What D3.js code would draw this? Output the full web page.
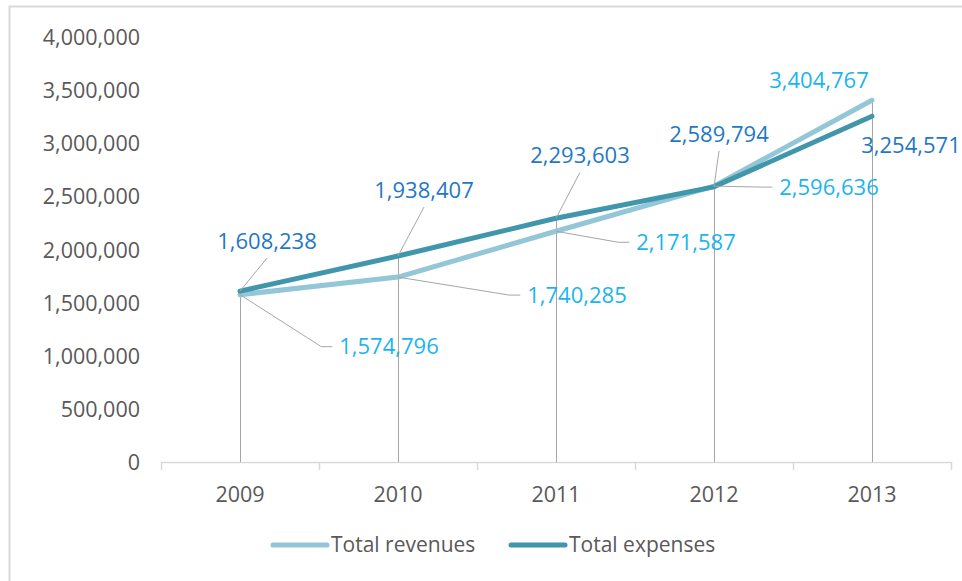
<!DOCTYPE html>
<html>
<head>
<meta charset="utf-8">
<script src="https://cdn.jsdelivr.net/npm/d3@7"></script>
<style>
  html, body { margin: 0; padding: 0; background: #ffffff; }
  svg { display: block; }
  text { font-family: "Open Sans", "Noto Sans", sans-serif; }
</style>
</head>
<body>
<svg id="chart" width="962" height="581"></svg>
<script>
// Years on the category axis
const years = ["2009", "2010", "2011", "2012", "2013"];
// Annual totals
const revenues = [1574796, 1740285, 2171587, 2596636, 3404767];
const expenses = [1608238, 1938407, 2293603, 2589794, 3254571];
// Value axis ticks
const yTicks = [0, 500000, 1000000, 1500000, 2000000, 2500000, 3000000, 3500000, 4000000];
// Series names for the legend
const seriesNames = ["Total revenues", "Total expenses"];

// Label placement: offset of each label centre from its point, and whether a leader is drawn
// side: "up" = label above with leader to its bottom, "right" = label to the right with elbow leader
const revLabelPos = [
  { dx: 149, dy: 52, side: "right" },
  { dx: 179, dy: 18, side: "right" },
  { dx: 130, dy: 11, side: "right" },
  { dx: 115, dy: 1, side: "right" },
  { dx: -53, dy: -20, side: "none" }
];
const expLabelPos = [
  { dx: 27, dy: -50, side: "up" },
  { dx: 26, dy: -66, side: "up" },
  { dx: 24, dy: -63, side: "up" },
  { dx: 5, dy: -53, side: "up" },
  { dx: 39, dy: 29, side: "none" }
];

const svg = d3.select("#chart");
const fmt = d3.format(",");

const margin = { left: 161, right: 951, top: 37, bottom: 462 };

const x = d3.scaleBand().domain(years).range([margin.left, margin.right]).padding(0);
const y = d3.scaleLinear().domain([0, 4000000]).range([margin.bottom, margin.top]);
const cx = d => x(d) + x.bandwidth() / 2;

// Outer chart-area frame (only top and left edges fall inside the view)
svg.append("rect")
  .attr("x", 9.5).attr("y", 6.5)
  .attr("width", 1000).attr("height", 600)
  .attr("fill", "none")
  .attr("stroke", "#d9d9d9")
  .attr("stroke-width", 2);

// Value axis labels (no axis line, no gridlines)
const yAxis = d3.axisLeft(y).tickValues(yTicks).tickFormat(fmt).tickSize(0).tickPadding(0);
const yg = svg.append("g").attr("transform", "translate(140,0)").call(yAxis);
yg.select(".domain").remove();
yg.selectAll("text")
  .attr("fill", "#595959")
  .style("font-size", "21.5px")
  .attr("dy", "0.35em");

// Category axis
const bounds = years.map(d => x(d)).concat([margin.right]);
const xg = svg.append("g");
xg.append("line")
  .attr("x1", margin.left).attr("x2", margin.right)
  .attr("y1", margin.bottom + 0.5).attr("y2", margin.bottom + 0.5)
  .attr("stroke", "#d9d9d9").attr("stroke-width", 1.5);
xg.selectAll("line.tick").data(bounds).enter().append("line")
  .attr("class", "tick")
  .attr("x1", d => Math.round(d) + 0.5).attr("x2", d => Math.round(d) + 0.5)
  .attr("y1", margin.bottom).attr("y2", margin.bottom + 8)
  .attr("stroke", "#d9d9d9").attr("stroke-width", 1.5);
xg.selectAll("text").data(years).enter().append("text")
  .attr("x", d => cx(d)).attr("y", margin.bottom + 32)
  .attr("text-anchor", "middle")
  .attr("dy", "0.35em")
  .attr("fill", "#595959")
  .style("font-size", "21.5px")
  .text(d => d);

// Drop lines from the higher point of each year down to the axis
svg.append("g").selectAll("line").data(years).enter().append("line")
  .attr("x1", d => Math.round(cx(d)) + 0.5).attr("x2", d => Math.round(cx(d)) + 0.5)
  .attr("y1", (d, i) => y(Math.max(revenues[i], expenses[i])))
  .attr("y2", margin.bottom)
  .attr("stroke", "#a6a6a6").attr("stroke-width", 1);

// Series lines
const line = d3.line().x((d, i) => cx(years[i])).y(d => y(d));
const revColor = "#93c6d6";
const expColor = "#4096ab";

svg.append("path").datum(revenues)
  .attr("d", line).attr("fill", "none")
  .attr("stroke", revColor).attr("stroke-width", 5)
  .attr("stroke-linecap", "round").attr("stroke-linejoin", "round");
svg.append("path").datum(expenses)
  .attr("d", line).attr("fill", "none")
  .attr("stroke", expColor).attr("stroke-width", 5)
  .attr("stroke-linecap", "round").attr("stroke-linejoin", "round");

// Data labels with leader lines
function drawLabels(values, pos, color) {
  const g = svg.append("g");
  values.forEach((v, i) => {
    const px = cx(years[i]);
    const py = y(v);
    const p = pos[i];
    const lx = px + p.dx;
    const ly = py + p.dy;
    const label = g.append("text")
      .attr("x", lx).attr("y", ly)
      .attr("text-anchor", "middle")
      .attr("dy", "0.35em")
      .attr("fill", color)
      .style("font-size", "22px")
      .text(fmt(v));
    const w = label.node().getComputedTextLength();
    if (p.side === "up") {
      g.append("path")
        .attr("d", d3.line()([[lx, ly + 17], [px, py]]))
        .attr("fill", "none").attr("stroke", "#a6a6a6").attr("stroke-width", 1);
    } else if (p.side === "right") {
      const left = lx - w / 2;
      g.append("path")
        .attr("d", d3.line()([[px, py], [left - 18, ly], [left - 7, ly]]))
        .attr("fill", "none").attr("stroke", "#a6a6a6").attr("stroke-width", 1);
    }
  });
}
drawLabels(revenues, revLabelPos, "#1cb4ef");
drawLabels(expenses, expLabelPos, "#1f78c6");

// Legend
const legend = svg.append("g").attr("transform", "translate(0,545)");
const legendItems = [
  { name: seriesNames[0], color: revColor, x0: 273 },
  { name: seriesNames[1], color: expColor, x0: 511 }
];
legendItems.forEach(it => {
  legend.append("line")
    .attr("x1", it.x0).attr("x2", it.x0 + 54)
    .attr("y1", 0).attr("y2", 0)
    .attr("stroke", it.color).attr("stroke-width", 5)
    .attr("stroke-linecap", "round");
  legend.append("text")
    .attr("x", it.x0 + 58).attr("y", 0)
    .attr("dy", "0.35em")
    .attr("fill", "#595959")
    .style("font-size", "21px")
    .text(it.name);
});
</script>
</body>
</html>
